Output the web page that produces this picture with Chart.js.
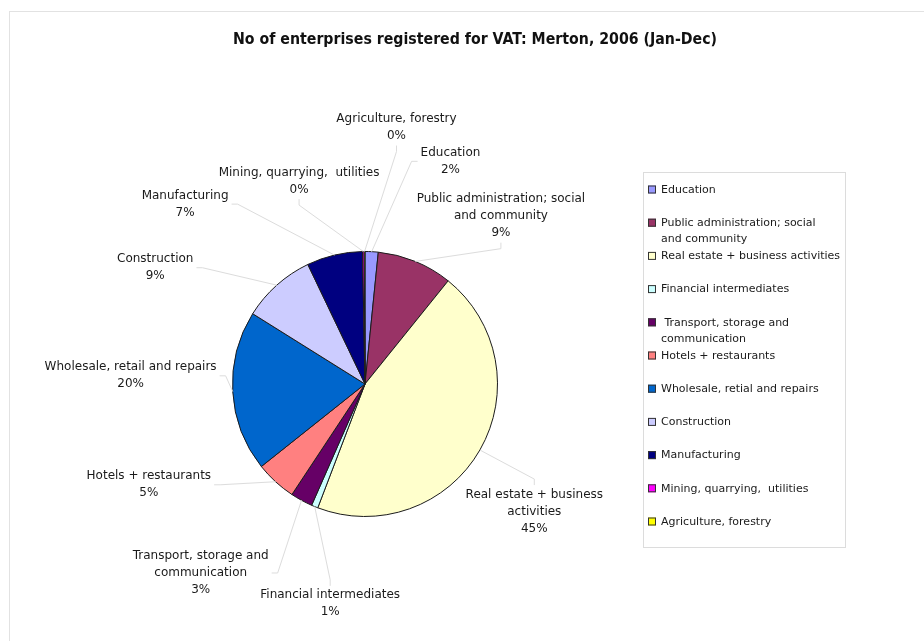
<!DOCTYPE html>
<html>
<head>
<meta charset="utf-8">
<title>VAT registrations, Merton 2006</title>
<script src="https://cdn.jsdelivr.net/npm/chart.js@4.4.1/dist/chart.umd.min.js"></script>
<style>
  html, body { margin: 0; padding: 0; background: #fff; }
</style>
</head>
<body>
<canvas id="myChart" width="924" height="641"></canvas>
<script>
var sectors = ["Education", "Public administration; social and community", "Real estate + business activities",
  "Financial intermediates", "Transport, storage and communication", "Hotels + restaurants",
  "Wholesale, retail and repairs", "Construction", "Manufacturing", "Mining, quarrying,  utilities",
  "Agriculture, forestry"];
// share of enterprises, %
var shares = [1.6, 9.2, 45.0, 0.8, 2.7, 5.0, 19.6, 9.0, 6.8, 0.2, 0.1];
var sliceColours = ["#9999ff", "#993366", "#ffffcc", "#ccffff", "#660066", "#ff8080",
  "#0066cc", "#ccccff", "#000080", "#ff00ff", "#ffff00"];

// callout text next to the pie
var calloutText = [["Education"], ["Public administration; social", "and community"],
  ["Real estate + business", "activities"], ["Financial intermediates"],
  ["Transport, storage and", "communication"], ["Hotels + restaurants"],
  ["Wholesale, retail and repairs"], ["Construction"], ["Manufacturing"],
  ["Mining, quarrying,  utilities"], ["Agriculture, forestry"]];
// legend text as it appears in the key box
var legendText = [["Education"], ["Public administration; social", "and community"],
  ["Real estate + business activities"], ["Financial intermediates"],
  [" Transport, storage and", "communication"], ["Hotels + restaurants"],
  ["Wholesale, retial and repairs"], ["Construction"], ["Manufacturing"],
  ["Mining, quarrying,  utilities"], ["Agriculture, forestry"]];

var chartTitle = "No of enterprises registered for VAT: Merton, 2006 (Jan-Dec)";

// callout placement: angle (deg, clockwise from 12 o'clock), distance in radii,
// and which side of the text block the leader line joins
var calloutAngle = [21, 39, 127, 189, 221, 245, 272, 299, 315, 342, 7];
var calloutDist = [1.80, 1.63, 1.60, 1.68, 1.89, 1.80, 1.77, 1.81, 1.92, 1.61, 1.95];
var calloutSide = ["l", "b", "t", "t", "r", "r", "r", "r", "r", "b", "b"];

var textFont = '12px "DejaVu Sans"';
var legendFont = '11px "DejaVu Sans"';

var decorations = {
  id: "decorations",
  beforeDraw: function (chart) {
    var ctx = chart.ctx;
    ctx.save();
    ctx.fillStyle = "#fff";
    ctx.fillRect(0, 0, chart.width, chart.height);
    // outer frame
    ctx.strokeStyle = "#e2e2e2";
    ctx.lineWidth = 1;
    ctx.strokeRect(9.5, 11.5, chart.width + 20, chart.height + 20);
    // title
    ctx.fillStyle = "#111";
    ctx.font = 'bold 16px "DejaVu Sans Condensed", "DejaVu Sans"';
    ctx.textAlign = "center";
    ctx.textBaseline = "middle";
    var tw = ctx.measureText(chartTitle).width;
    ctx.translate(475, 40);
    ctx.scale(Math.min(1, 484 / tw), 1);
    ctx.fillText(chartTitle, 0, 0);
    ctx.restore();
  },
  afterDatasetsDraw: function (chart) {
    var ctx = chart.ctx;
    var arcs = chart.getDatasetMeta(0).data;
    var total = shares.reduce(function (a, b) { return a + b; }, 0);
    ctx.save();
    ctx.font = textFont;
    ctx.textAlign = "center";
    ctx.textBaseline = "middle";
    var lineH = 17;
    arcs.forEach(function (arc, i) {
      var p = arc.getProps(["x", "y", "startAngle", "endAngle", "outerRadius"], true);
      var mid = (p.startAngle + p.endAngle) / 2;
      var ax = p.x + Math.cos(mid) * p.outerRadius;
      var ay = p.y + Math.sin(mid) * p.outerRadius;
      var a = (calloutAngle[i] - 90) * Math.PI / 180;
      var lx = p.x + Math.cos(a) * p.outerRadius * calloutDist[i];
      var ly = p.y + Math.sin(a) * p.outerRadius * calloutDist[i];
      var lines = calloutText[i].concat([Math.round(shares[i] / total * 100) + "%"]);
      var w = 0;
      lines.forEach(function (t) { w = Math.max(w, ctx.measureText(t).width); });
      var h = lines.length * lineH;
      // join point on the text block plus a short elbow towards the pie
      var jx = lx, jy = ly, ex = lx, ey = ly;
      if (calloutSide[i] === "l") { jx = lx - w / 2 - 3; ex = jx - 6; ey = jy; }
      if (calloutSide[i] === "r") { jx = lx + w / 2 + 3; ex = jx + 6; ey = jy; }
      if (calloutSide[i] === "t") { jy = ly - h / 2 - 1; ey = jy - 6; ex = jx; }
      if (calloutSide[i] === "b") { jy = ly + h / 2 + 1; ey = jy + 6; ex = jx; }
      ctx.strokeStyle = "#dcdcdc";
      ctx.lineWidth = 1;
      ctx.beginPath();
      ctx.moveTo(jx, jy);
      ctx.lineTo(ex, ey);
      ctx.lineTo(ax, ay);
      ctx.stroke();
      ctx.fillStyle = "#1a1a1a";
      lines.forEach(function (t, k) {
        ctx.fillText(t, lx, ly - h / 2 + lineH / 2 + k * lineH);
      });
    });

    // key box
    ctx.strokeStyle = "#dcdcdc";
    ctx.strokeRect(643.5, 172.5, 202, 375);
    ctx.font = legendFont;
    ctx.textAlign = "left";
    legendText.forEach(function (lines, i) {
      var y = 190 + i * 33.2;
      ctx.fillStyle = sliceColours[i];
      ctx.fillRect(648, y - 4.5, 8, 8);
      ctx.strokeStyle = "#333";
      ctx.strokeRect(648.5, y - 4, 7, 7);
      ctx.fillStyle = "#1a1a1a";
      lines.forEach(function (t, k) {
        ctx.fillText(t, 661, y + k * 16);
      });
    });
    ctx.restore();
  }
};

new Chart("myChart", {
  type: "pie",
  data: {
    labels: sectors,
    datasets: [{
      data: shares,
      backgroundColor: sliceColours,
      borderColor: "#1c1c1c",
      borderWidth: 1
    }]
  },
  options: {
    responsive: false,
    animation: false,
    layout: { padding: { left: 232, right: 426, top: 251, bottom: 124 } },
    plugins: {
      legend: { display: false },
      tooltip: { enabled: false }
    }
  },
  plugins: [decorations]
});
</script>
</body>
</html>
